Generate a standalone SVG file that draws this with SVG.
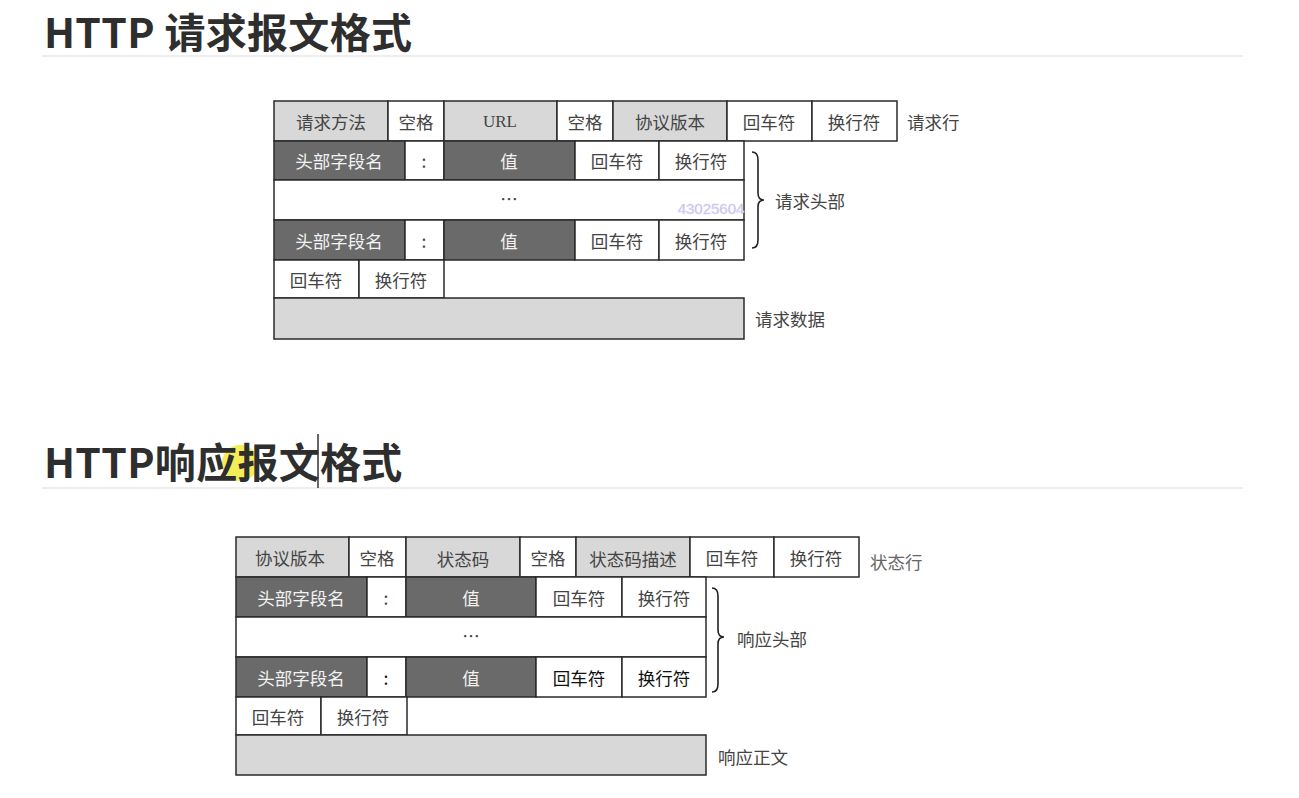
<svg xmlns="http://www.w3.org/2000/svg" width="1299" height="798" viewBox="0 0 1299 798">
<style>
.title{font-family:"Noto Sans CJK SC","Noto Sans",sans-serif;font-weight:700;font-size:41px;letter-spacing:0.3px;fill:#2e2e2e}
.rule{stroke:#e8e8e8;stroke-width:1.5}
rect{stroke:#2a2a2a;stroke-width:1.5}
.g{fill:#d8d8d8}
.d{fill:#6a6a6a}
.w{fill:#ffffff}
.t{font-family:"Noto Sans CJK SC","Noto Sans",sans-serif;font-size:17.5px;fill:#444;text-anchor:middle;dominant-baseline:central}
.tl{font-family:"Noto Sans CJK SC","Noto Sans",sans-serif;font-size:17.5px;fill:#f2f2f2;text-anchor:middle;dominant-baseline:central}
.u{font-family:"Liberation Serif",serif;font-size:17px;fill:#444;text-anchor:middle;dominant-baseline:central}
.lab{font-family:"Noto Sans CJK SC","Noto Sans",sans-serif;font-size:17.5px;fill:#444;dominant-baseline:central}
.lab2{font-family:"Noto Sans CJK SC","Noto Sans",sans-serif;font-size:17.5px;fill:#666;dominant-baseline:central}
.brace{fill:none;stroke:#222;stroke-width:1.6}
</style>

<g id="title1"><text class="title" x="44" y="48">HTTP 请求报文格式</text><line class="rule" x1="42" y1="56" x2="1243" y2="56"/></g>
<g id="title2"><circle cx="240" cy="463" r="18" fill="#f3ea3a" opacity="0.85"/><text class="title" x="44" y="478">HTTP响应报文格式</text><line class="rule" x1="42" y1="488" x2="1243" y2="488"/><line x1="318" y1="434" x2="318" y2="488" stroke="#333" stroke-width="1.5"/></g>

<!-- Request diagram -->
<g id="req-line">
<g id="rq-method"><rect class="g" x="274" y="101" width="114" height="40"/><text class="t" x="331" y="121">请求方法</text></g>
<g id="rq-sp1"><rect class="w" x="388" y="101" width="56" height="40"/><text class="t" x="416" y="121">空格</text></g>
<g id="rq-url"><rect class="g" x="444" y="101" width="113" height="40"/><text class="u" x="500" y="121">URL</text></g>
<g id="rq-sp2"><rect class="w" x="557" y="101" width="56" height="40"/><text class="t" x="585" y="121">空格</text></g>
<g id="rq-ver"><rect class="g" x="613" y="101" width="114" height="40"/><text class="t" x="670" y="121">协议版本</text></g>
<g id="rq-cr"><rect class="w" x="727" y="101" width="85" height="40"/><text class="t" x="769" y="121">回车符</text></g>
<g id="rq-lf"><rect class="w" x="812" y="101" width="85" height="40"/><text class="t" x="854" y="121">换行符</text></g>
<text class="lab" x="907" y="121">请求行</text>
</g>
<g id="req-h1">
<rect class="d" x="274" y="141" width="131" height="39"/><text class="tl" x="339" y="160">头部字段名</text>
<rect class="w" x="405" y="141" width="39" height="39"/><text class="t" x="424" y="160">:</text>
<rect class="d" x="444" y="141" width="131" height="39"/><text class="tl" x="509" y="160">值</text>
<rect class="w" x="575" y="141" width="84" height="39"/><text class="t" x="617" y="160">回车符</text>
<rect class="w" x="659" y="141" width="85" height="39"/><text class="t" x="701" y="160">换行符</text>
</g>
<g id="req-dots"><rect class="w" x="274" y="180" width="470" height="40"/><text class="t" x="509" y="198">…</text></g>
<g id="req-h2">
<rect class="d" x="274" y="220" width="131" height="40"/><text class="tl" x="339" y="240">头部字段名</text>
<rect class="w" x="405" y="220" width="39" height="40"/><text class="t" x="424" y="240">:</text>
<rect class="d" x="444" y="220" width="131" height="40"/><text class="tl" x="509" y="240">值</text>
<rect class="w" x="575" y="220" width="84" height="40"/><text class="t" x="617" y="240">回车符</text>
<rect class="w" x="659" y="220" width="85" height="40"/><text class="t" x="701" y="240">换行符</text>
</g>
<g id="req-crlf">
<rect class="w" x="274" y="260" width="85" height="38"/><text class="t" x="316" y="279">回车符</text>
<rect class="w" x="359" y="260" width="85" height="38"/><text class="t" x="401" y="279">换行符</text>
</g>
<g id="req-body"><rect class="g" x="274" y="298" width="470" height="41"/><text class="lab" x="755" y="318">请求数据</text></g>
<text id="wm" x="711" y="208" font-family="Liberation Sans,sans-serif" font-size="15" fill="#aaa4e2" stroke="#e4e0f7" stroke-width="0.6" text-anchor="middle" dominant-baseline="central">43025604</text>
<g id="req-hdr-label"><text class="lab" x="775" y="200">请求头部</text></g>

<!-- Response diagram -->
<g id="resp-line">
<g id="rs-ver"><rect class="g" x="236" y="537" width="113" height="40"/><text class="t" x="290" y="557">协议版本</text></g>
<g id="rs-sp1"><rect class="w" x="349" y="537" width="57" height="40"/><text class="t" x="377" y="557">空格</text></g>
<g id="rs-code"><rect class="g" x="406" y="537" width="114" height="40"/><text class="t" x="463" y="558">状态码</text></g>
<g id="rs-sp2"><rect class="w" x="520" y="537" width="56" height="40"/><text class="t" x="548" y="557">空格</text></g>
<g id="rs-desc"><rect class="g" x="576" y="537" width="114" height="40"/><text class="t" x="633" y="558">状态码描述</text></g>
<g id="rs-cr"><rect class="w" x="690" y="537" width="84" height="40"/><text class="t" x="732" y="557">回车符</text></g>
<g id="rs-lf"><rect class="w" x="774" y="537" width="85" height="40"/><text class="t" x="816" y="557">换行符</text></g>
<text class="lab2" x="870" y="561">状态行</text>
</g>
<g id="resp-h1">
<rect class="d" x="236" y="577" width="131" height="40"/><text class="tl" x="301" y="597">头部字段名</text>
<rect class="w" x="367" y="577" width="39" height="40"/><text class="t" x="386" y="597">:</text>
<rect class="d" x="406" y="577" width="130" height="40"/><text class="tl" x="471" y="597">值</text>
<rect class="w" x="536" y="577" width="86" height="40"/><text class="t" x="579" y="597">回车符</text>
<rect class="w" x="622" y="577" width="84" height="40"/><text class="t" x="664" y="597">换行符</text>
</g>
<g id="resp-dots"><rect class="w" x="236" y="617" width="470" height="40"/><text class="t" x="471" y="635">…</text></g>
<g id="resp-h2">
<rect class="d" x="236" y="657" width="131" height="40"/><text class="tl" x="301" y="677">头部字段名</text>
<rect class="w" x="367" y="657" width="39" height="40"/><text class="t" x="386" y="677" style="fill:#111">:</text>
<rect class="d" x="406" y="657" width="130" height="40"/><text class="tl" x="471" y="677">值</text>
<rect class="w" x="536" y="657" width="86" height="40"/><text class="t" x="579" y="677" style="fill:#111">回车符</text>
<rect class="w" x="622" y="657" width="84" height="40"/><text class="t" x="664" y="677" style="fill:#111">换行符</text>
</g>
<g id="resp-crlf">
<rect class="w" x="236" y="697" width="85" height="38"/><text class="t" x="278" y="716">回车符</text>
<rect class="w" x="321" y="697" width="86" height="38"/><text class="t" x="363" y="716">换行符</text>
</g>
<g id="resp-body"><rect class="g" x="236" y="735" width="470" height="40"/><text class="lab" x="718" y="756">响应正文</text></g>
<g id="resp-hdr-label"><text class="lab" x="737" y="638">响应头部</text></g>

<g id="connectors">
<path class="brace" d="M752,152 Q758,152 758,160 L758,193 Q758,200 764,200 Q758,200 758,207 L758,240 Q758,248 752,248"/>
<path class="brace" d="M712,588 Q718,588 718,596 L718,630 Q718,637 724,637 Q718,637 718,644 L718,684 Q718,692 712,692"/>
</g>
</svg>
